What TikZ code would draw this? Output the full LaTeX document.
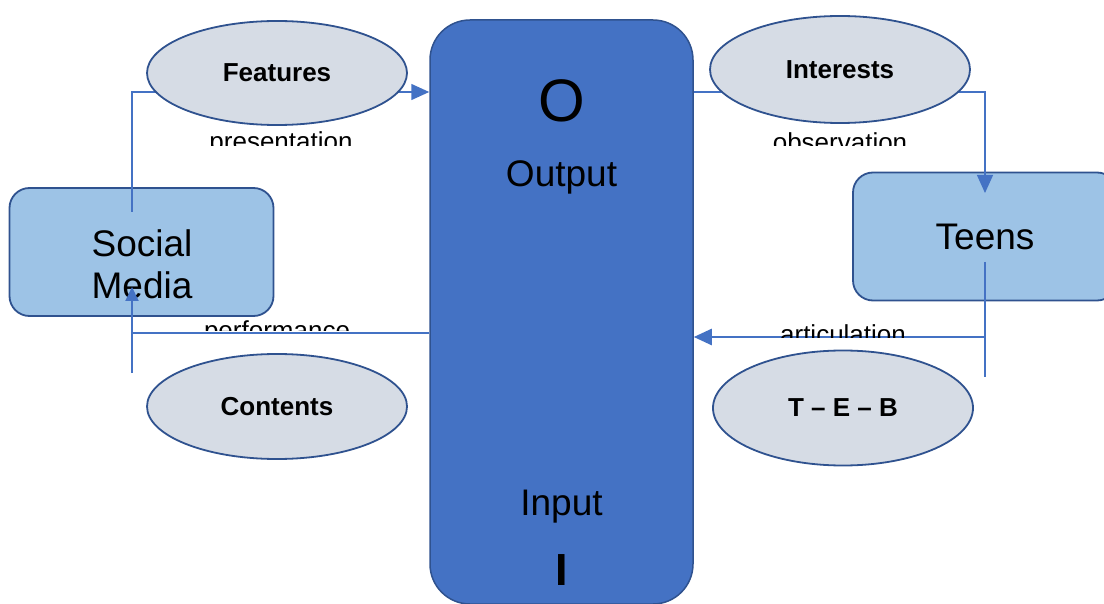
\documentclass[tikz,border=0pt]{standalone}
\usepackage{fontspec}
\setmainfont{Liberation Sans}
\usetikzlibrary{shapes.geometric,arrows.meta}

\definecolor{ioblue}{HTML}{4472C4}
\definecolor{edgeblue}{HTML}{2F528F}
\definecolor{boxblue}{HTML}{9DC3E6}
\definecolor{ovalgrey}{HTML}{D6DCE5}

\begin{document}
\begin{tikzpicture}[x=1pt, y=-1pt,
    iobox/.style={draw=edgeblue, line width=1.5pt, fill=ioblue, rounded corners=40pt,
        minimum width=263pt, minimum height=584pt},
    actor/.style={draw=edgeblue, line width=1.8pt, fill=boxblue, rounded corners=20pt,
        minimum width=264pt, minimum height=128pt, font=\fontsize{37}{42}\selectfont},
    oval/.style={ellipse, draw=edgeblue, line width=1.8pt, fill=ovalgrey, inner sep=0pt,
        minimum width=260pt, minimum height=105pt, font=\fontsize{26}{30}\selectfont\bfseries},
    flow/.style={draw=ioblue, line width=1.5pt},
    tip/.style={-{Triangle[length=18pt,width=16pt]}},
    smalltip/.style={-{Triangle[length=14pt,width=13pt]}},
    verb/.style={anchor=base, font=\fontsize{26}{30}\selectfont},
    big/.style={font=\fontsize{37}{42}\selectfont}
]
    \useasboundingbox (0,0) rectangle (1104,604);

    % boxes
    \node[iobox] (io) at (561.5,312) {};
    \node[actor] (sm) at (141.5,252) {};
    \node[big, align=center] (smText) at (142,264) {Social\\Media};
    \node[actor] (teens) at (985,236.5) {Teens};

    \node[font=\fontsize{60}{66}\selectfont, anchor=base] (oMark) at (561.5,122) {O};
    \node[big, anchor=base] (outTxt) at (561.5,187) {Output};
    \node[big, anchor=base] (inTxt) at (561.5,515) {Input};
    \node[font=\fontsize{45}{50}\selectfont\bfseries, anchor=base] (iMark) at (561.5,585) {I};

    % ends of the flows
    \coordinate (smIn) at (132,212);
    \coordinate (smTip) at (132,287);
    \coordinate (smFoot) at (132,373);
    \coordinate (teensTip) at (985,193);
    \coordinate (teensIn) at (985,262);
    \coordinate (teensFoot) at (985,377);
    \coordinate (presRow) at (0,92);
    \coordinate (perfRow) at (0,333);
    \coordinate (artRow) at (0,337);

    \draw[flow, tip] (smIn) |- (io.west |- presRow);
    \draw[flow, tip, line width=1.2pt] (io.east |- presRow) -| (teensTip);
    \draw[flow, line width=1.2pt] (teensIn) -- (teensFoot);
    \draw[flow, tip, line width=2.5pt] (teensIn |- artRow) -- (io.east |- artRow);
    \draw[flow, line width=1.2pt] (io.west |- perfRow) -- (smFoot |- perfRow);
    \draw[flow, smalltip, line width=2pt] (smFoot) -- (smTip);

    % ovals
    \node[oval, minimum height=104pt] (feat) at (277,73) {Features};
    \node[oval, minimum height=107pt] (intr) at (840,69.5) {Interests};
    \node[oval] (cont) at (277,406.5) {Contents};
    \node[oval, minimum height=115pt] (teb) at (843,408) {T – E – B};

    % verbs, cut off at the bottom
    \foreach \name/\word/\x/\y/\cut in {pres/presentation/281/151/145.5,
        obs/observation/840/152/145.5, perf/performance/277/339/331,
        art/articulation/843/343.5/337.5} {
        \begin{scope}
            \clip (\x-100,\y-40) rectangle (\x+100,\cut);
            \node[verb] (\name) at (\x,\y) {\word};
        \end{scope}
    }
\end{tikzpicture}
\end{document}
